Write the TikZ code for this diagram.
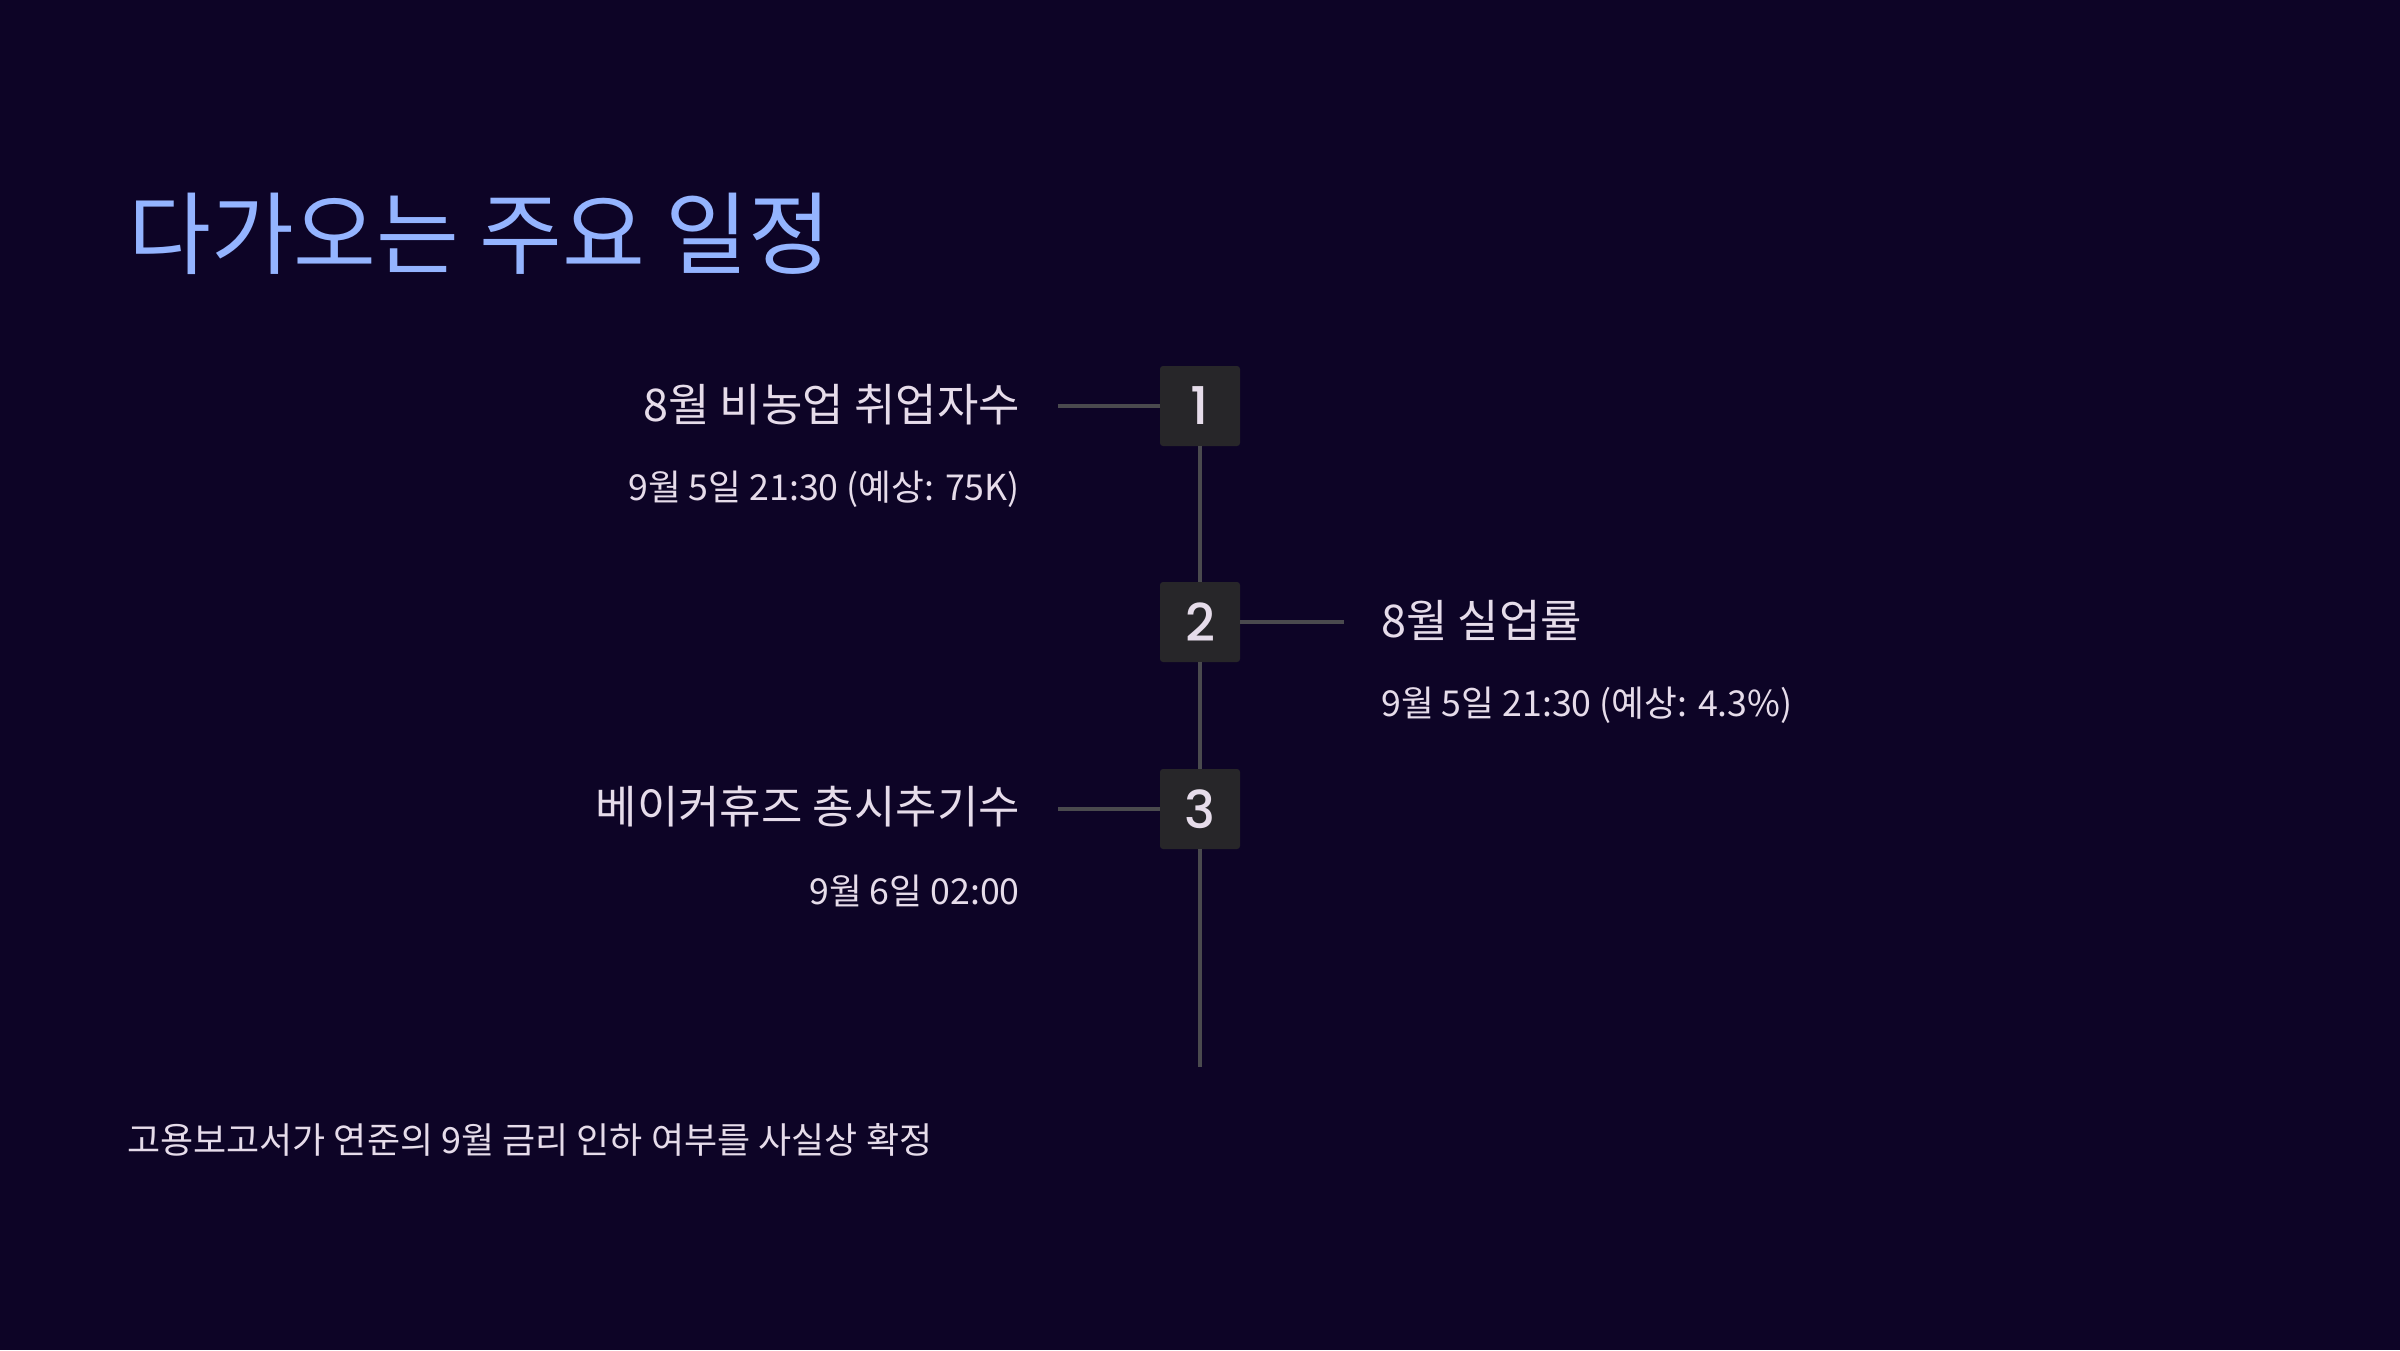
\documentclass[tikz,border=0pt]{standalone}
\usepackage{fontspec}
\setmainfont{Noto Sans CJK KR}
\newfontfamily\numfont{Poppins}[UprightFont=* Medium]
\definecolor{bgc}{HTML}{0D0426}
\definecolor{titlec}{HTML}{94B4FF}
\definecolor{txtc}{HTML}{E6DCEA}
\definecolor{boxc}{HTML}{272629}
\definecolor{linec}{HTML}{4A4A4E}
\tikzset{
  numbox/.style={draw=none, fill=boxc, rounded corners=3pt, minimum width=80pt, minimum height=80pt, inner sep=0pt, text=txtc, font=\numfont\fontsize{52}{52}\selectfont},
  headlbl/.style={inner sep=0pt, text=txtc, font=\fontsize{45}{45}\selectfont},
  sublbl/.style={inner sep=0pt, text=txtc, font=\fontsize{35.7}{36}\selectfont},
  conn/.style={draw=linec, line width=3.5pt}
}
\begin{document}
\begin{tikzpicture}[x=1pt,y=-1pt]
\fill[bgc] (0,0) rectangle (2400,1350);
\useasboundingbox (0,0) rectangle (2400,1350);
\node[anchor=west, inner sep=0pt, text=titlec, font=\fontsize{90}{90}\selectfont] (title) at (128,234) {다가오는 주요 일정};
\node[numbox] (b1) at (1200,406) {1};
\node[numbox] (b2) at (1200,622) {2};
\node[numbox] (b3) at (1200,809) {3};
\coordinate (vend) at (1200,1067);
\coordinate (h1) at (1058,406);
\coordinate (h2) at (1344,622);
\coordinate (h3) at (1058,809);
\draw[conn] (b1.south) -- (b2.north);
\draw[conn] (b2.south) -- (b3.north);
\draw[conn] (b3.south) -- (vend);
\draw[conn] (h1) -- (b1.west);
\draw[conn] (b2.east) -- (h2);
\draw[conn] (h3) -- (b3.west);
\node[headlbl, anchor=east] (l1) at (1020,405) {8월 비농업 취업자수};
\node[sublbl, anchor=east] (s1) at (1020,489) {9월 5일 21:30 (예상: 75K)};
\node[headlbl, anchor=west] (l2) at (1381,620) {8월 실업률};
\node[sublbl, anchor=west] (s2) at (1381,705) {9월 5일 21:30 (예상: 4.3\%)};
\node[headlbl, anchor=east] (l3) at (1020,807) {베이커휴즈 총시추기수};
\node[sublbl, anchor=east] (s3) at (1020,891) {9월 6일 02:00};
\node[anchor=west, inner sep=0pt, text=txtc, font=\fontsize{36}{36}\selectfont] (foot) at (127,1140) {고용보고서가 연준의 9월 금리 인하 여부를 사실상 확정};
\end{tikzpicture}
\end{document}
